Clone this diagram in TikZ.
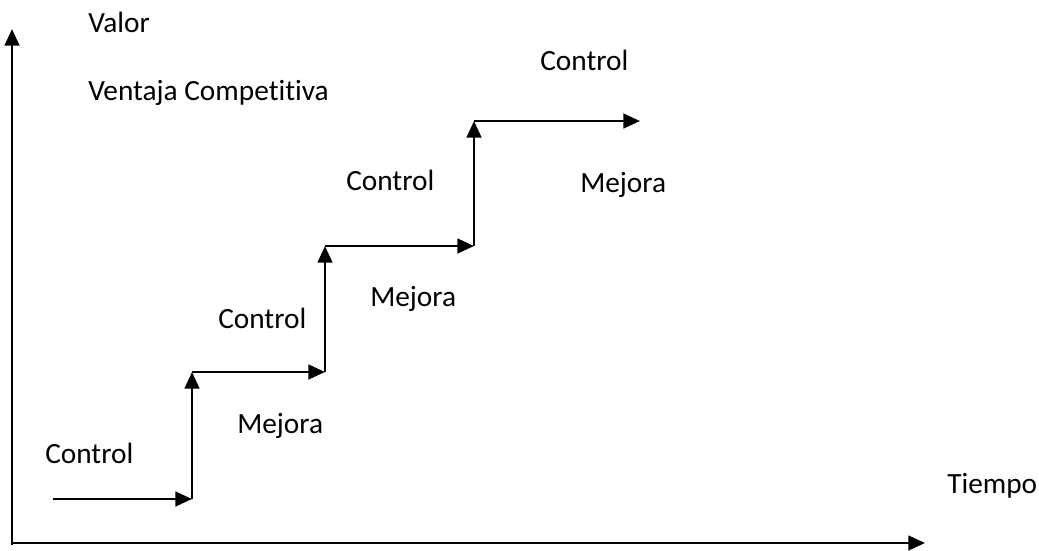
\documentclass[tikz,border=0pt]{standalone}
\usepackage{fontspec}
\setmainfont{Carlito}[Ligatures=NoCommon]
\usetikzlibrary{arrows.meta}
\begin{document}
\begin{tikzpicture}[x=0.75pt,y=-0.75pt,
  line/.style={line width=1.9pt,-{Triangle[length=12.5pt,width=11pt]}},
  lbl/.style={anchor=base west,inner sep=0pt,font=\fontsize{22}{26}\selectfont}]
\useasboundingbox (0,0) rectangle (1039,550);

% axes
\coordinate (o) at (12,543);
\coordinate (ybase) at (12,545);
\coordinate (ytop) at (12,29);
\coordinate (xend) at (925,543);
\draw[line] (ybase) -- (ytop);
\draw[line] (o) -- (xend);

% staircase corners
\coordinate (s0) at (53,499);
\coordinate (c1) at (192,499);
\coordinate (t1) at (192,372);
\coordinate (c2) at (325,372);
\coordinate (t2) at (325,246);
\coordinate (c3) at (474,246);
\coordinate (t3) at (474,121);
\coordinate (e4) at (640,121);

\draw[line] (s0) -- (c1);
\draw[line] (c1) -- (t1);
\draw[line] (t1) -- (c2);
\draw[line] (c2) -- (t2);
\draw[line] (t2) -- (c3);
\draw[line] (c3) -- (t3);
\draw[line] (t3) -- (e4);

% labels
\node[lbl] (valor) at (88,32) {Valor};
\node[lbl] (ventaja) at (88,100) {Ventaja Competitiva};
\node[lbl] (ctrl4) at (540,70) {Control};
\node[lbl] (ctrl3) at (346,190) {Control};
\node[lbl] (mej3) at (580,192) {Mejora};
\node[lbl] (mej2) at (370,306) {Mejora};
\node[lbl] (ctrl2) at (218,328) {Control};
\node[lbl] (mej1) at (237,433) {Mejora};
\node[lbl] (ctrl1) at (45,463) {Control};
\node[lbl] (tiempo) at (947,493) {Tiempo};
\end{tikzpicture}
\end{document}
